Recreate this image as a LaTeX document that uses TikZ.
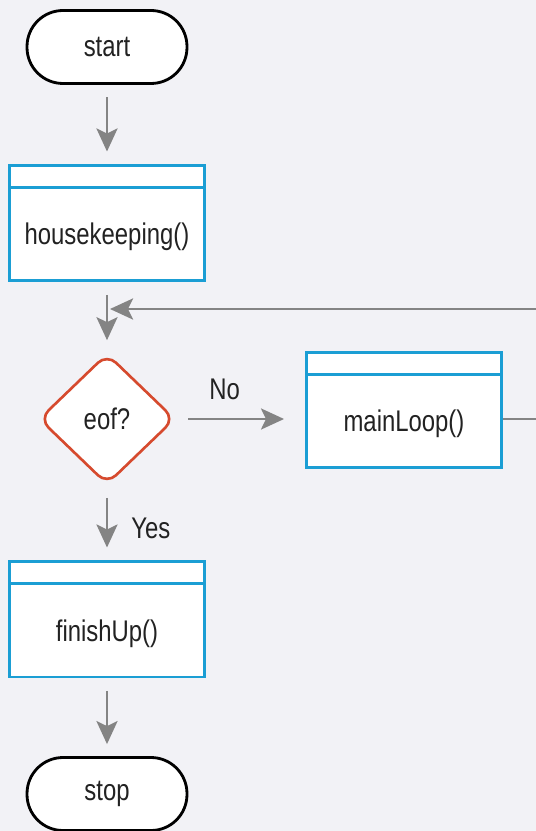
\documentclass[tikz,border=0pt]{standalone}
\usepackage{fontspec}
\setmainfont{Liberation Sans}[FakeStretch=0.8]
\usetikzlibrary{arrows.meta,shapes.geometric}

\definecolor{pagebg}{RGB}{242,242,246}
\definecolor{boxblue}{RGB}{27,158,212}
\definecolor{decred}{RGB}{214,74,46}
\definecolor{flowgray}{RGB}{132,132,132}
\definecolor{ink}{RGB}{34,34,34}

\begin{document}
\begin{tikzpicture}[x=0.02cm,y=-0.02cm,
    every node/.style={font=\fontsize{17}{20}\selectfont,text=ink},
    term/.style={draw=black,line width=1.6pt,fill=white,rounded corners=0.72cm,
        minimum width=3.2cm,minimum height=1.46cm},
    module/.style={draw=boxblue,line width=1.7pt,fill=white,inner sep=0pt,
        minimum width=3.9cm,minimum height=2.32cm,text height=1.6cm,text depth=0.72cm,
        path picture={\draw[boxblue,line width=1.7pt]
            ([yshift=-0.45cm]path picture bounding box.north west) --
            ([yshift=-0.45cm]path picture bounding box.north east);}},
    decision/.style={diamond,draw=decred,line width=1.5pt,fill=white,inner sep=0pt,
        rounded corners=0.25cm,minimum width=2.72cm,minimum height=2.62cm},
    flow/.style={draw=flowgray,line width=1.7pt,
        -{Stealth[length=0.46cm,width=0.42cm,inset=0.1cm]}}]

\fill[pagebg] (0,0) rectangle (536,831);
\useasboundingbox (0,0) rectangle (536,831);

\node[term] (start) at (107,47) {start};
\node[module] (hk) at (107,223) {housekeeping()};
\node[decision] (eof) at (107,419) {eof?};
\node[module] (ml) at (404,410) {mainLoop()};
\node[module] (fu) at (107,619) {finishUp()};
\node[term] (stop) at (107,794) {stop};

\coordinate (join) at (107,309);

\foreach \a/\b in {start/hk,hk/eof,fu/stop}
    \draw[flow,shorten <=0.25cm,shorten >=0.24cm] (\a) -- (\b);

\draw[flow,shorten <=0.24cm,shorten >=0.24cm] (eof) -- node[pos=0.58,right=0.34cm] {Yes} (fu);
\draw[flow,shorten <=0.24cm,shorten >=0.42cm] (eof.east) -- node[pos=0.375,above=0.24cm] {No} (eof.east -| ml.west);

% back to the test
\draw[flow,shorten >=0.06cm] (ml.east |- eof) -- ++(2cm,0) |- (join);

\end{tikzpicture}
\end{document}
